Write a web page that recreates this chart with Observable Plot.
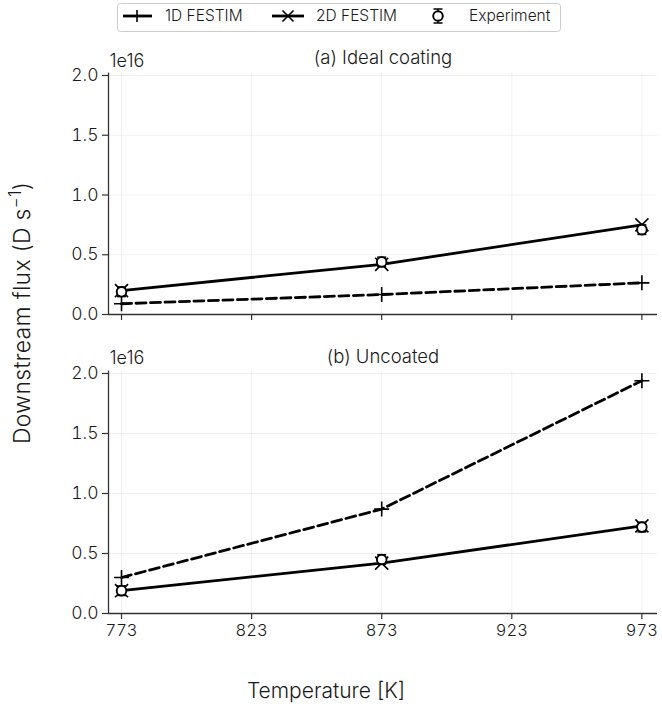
<!DOCTYPE html>
<html><head><meta charset="utf-8">
<script src="https://cdn.jsdelivr.net/npm/d3@7"></script>
<script src="https://cdn.jsdelivr.net/npm/@observablehq/plot@0.6"></script>
<style>
body{margin:0;background:#fff;font-family:Inter,"Noto Sans",sans-serif;font-weight:300;}
#wrap{position:relative;width:662px;height:706px;overflow:hidden;background:#fff;}
#wrap text{font-weight:300;}
.panel{position:absolute;left:0;}
#legend{position:absolute;left:117px;top:3px;z-index:5;}
#ylab{position:absolute;left:22px;top:313px;transform:translate(-50%,-50%) rotate(-90deg);white-space:nowrap;font-size:23px;letter-spacing:0.3px;color:#1a1a1a;}
#xlab{position:absolute;left:326px;top:690px;transform:translate(-50%,-50%);white-space:nowrap;font-size:21px;color:#1a1a1a;}
</style></head><body><div id="wrap"></div>
<script>
// ---- data ----
const temperatures = [773, 873, 973];
const xTicks = [773, 823, 873, 923, 973];
const yTicks = [0, 0.5, 1.0, 1.5, 2.0];
const coated1D  = [0.09, 0.167, 0.265];
const coated2D  = [0.20, 0.42, 0.75];
const coatedExp = [0.19, 0.44, 0.71];
const coatedErr = [0.04, 0.04, 0.04];
const uncoated1D  = [0.30, 0.87, 1.94];
const uncoated2D  = [0.19, 0.42, 0.73];
const uncoatedExp = [0.19, 0.45, 0.72];
const uncoatedErr = [0.04, 0.04, 0.04];
const panelTitles = ["(a) Ideal coating", "(b) Uncoated"];
const scaleLabel = "1e16";
const seriesNames = ["1D FESTIM", "2D FESTIM", "Experiment"];
const xLabel = "Temperature [K]";
const yLabelHTML = "Downstream flux (D s<sup style='font-size:0.72em;vertical-align:0.55em;line-height:0'>−1</sup>)";

const xDomain = [768, 979];
const yDomain = [0, 2.02];
const font = "Inter, 'Noto Sans', sans-serif";

const capSymbol = {draw(ctx, size){ const w = Math.sqrt(size/Math.PI); ctx.moveTo(-w,0); ctx.lineTo(w,0); }};

function panel({title, d1, d2, e, err, height, marginTop, marginBottom, showLabels, titleDy, scaleDy}) {
  const rows = temperatures.map((t,i)=>({t, v1:d1[i], v2:d2[i], e:e[i], err:err[i]}));
  return Plot.plot({
    width: 662, height, marginLeft: 108, marginRight: 5, marginTop, marginBottom,
    style: {fontFamily: font, fontWeight: 300, background: "transparent", color: "#1a1a1a", overflow: "visible"},
    x: {domain: xDomain},
    y: {domain: yDomain},
    marks: [
      Plot.gridX(xTicks, {stroke: "#000", strokeOpacity: 0.06, strokeWidth: 1}),
      Plot.gridY(yTicks, {stroke: "#000", strokeOpacity: 0.06, strokeWidth: 1}),
      Plot.axisY(yTicks, {tickFormat: d3.format(".1f"), tickSize: 6, tickPadding: 4, fontSize: 17.5, stroke: "#333", strokeWidth: 1.2, label: null}),
      Plot.axisX(xTicks, {tickFormat: showLabels ? (d => String(d)) : (() => ""), tickSize: 6, tickPadding: 5, fontSize: 16.5, stroke: "#333", strokeWidth: 1.2, label: null}),
      Plot.ruleX([xDomain[0]], {stroke: "#333", strokeWidth: 1.3}),
      Plot.ruleY([yDomain[0]], {stroke: "#333", strokeWidth: 1.3}),
      Plot.line(rows, {x: "t", y: "v1", stroke: "black", strokeWidth: 2.8, strokeDasharray: "10,4.5"}),
      Plot.line(rows, {x: "t", y: "v2", stroke: "black", strokeWidth: 2.8}),
      Plot.dot(rows, {x: "t", y: "v1", symbol: "plus", r: 4.9, stroke: "black", strokeWidth: 1.6}),
      Plot.dot(rows, {x: "t", y: "v2", symbol: "times", r: 6, stroke: "black", strokeWidth: 1.6}),
      Plot.ruleX(rows, {x: "t", y1: d => d.e - d.err, y2: d => d.e + d.err, stroke: "black", strokeWidth: 1.5}),
      Plot.dot(rows, {x: "t", y: d => d.e - d.err, symbol: capSymbol, r: 4.5, stroke: "black", strokeWidth: 1.5}),
      Plot.dot(rows, {x: "t", y: d => d.e + d.err, symbol: capSymbol, r: 4.5, stroke: "black", strokeWidth: 1.5}),
      Plot.dot(rows, {x: "t", y: "e", r: 4.8, fill: "white", stroke: "black", strokeWidth: 1.9}),
      Plot.text([title], {frameAnchor: "top", lineAnchor: "middle", dy: titleDy, fontSize: 18.5, fill: "#1a1a1a"}),
      Plot.text([scaleLabel], {frameAnchor: "top-left", lineAnchor: "middle", textAnchor: "start", dx: 1, dy: scaleDy, fontSize: 18, fill: "#1a1a1a"})
    ]
  });
}

const wrap = document.getElementById("wrap");

const top1 = panel({title: panelTitles[0], d1: coated1D, d2: coated2D, e: coatedExp, err: coatedErr,
  height: 330, marginTop: 72.6, marginBottom: 16, showLabels: false, titleDy: -15.5, scaleDy: -11.5});
const d1 = document.createElement("div"); d1.className = "panel"; d1.style.top = "0px"; d1.appendChild(top1); wrap.appendChild(d1);

const bot = panel({title: panelTitles[1], d1: uncoated1D, d2: uncoated2D, e: uncoatedExp, err: uncoatedErr,
  height: 376, marginTop: 40.6, marginBottom: 93, showLabels: true, titleDy: -14.5, scaleDy: -13});
const d2 = document.createElement("div"); d2.className = "panel"; d2.style.top = "330px"; d2.appendChild(bot); wrap.appendChild(d2);

// axis titles
const yl = document.createElement("div"); yl.id = "ylab"; yl.innerHTML = yLabelHTML; wrap.appendChild(yl);
const xl = document.createElement("div"); xl.id = "xlab"; xl.textContent = xLabel; wrap.appendChild(xl);

// legend
const lg = d3.select(wrap).append("svg").attr("id", "legend").attr("width", 445).attr("height", 30)
  .style("font-family", font);
lg.append("rect").attr("x", 0.5).attr("y", 0.5).attr("width", 443).attr("height", 28).attr("rx", 3)
  .attr("fill", "white").attr("stroke", "#ccc");
const cy = 13;
// 1D
lg.append("line").attr("x1", 6).attr("x2", 35).attr("y1", cy).attr("y2", cy).attr("stroke", "black").attr("stroke-width", 2.8);
lg.append("path").attr("transform", `translate(20,${cy})`).attr("d", "M-6,0H6M0,-6V6").attr("stroke", "black").attr("stroke-width", 1.6);
lg.append("text").attr("x", 48).attr("y", cy).attr("dy", "0.35em").attr("font-size", 15.5).attr("fill", "#1a1a1a").text(seriesNames[0]);
// 2D
lg.append("line").attr("x1", 155).attr("x2", 187).attr("y1", cy).attr("y2", cy).attr("stroke", "black").attr("stroke-width", 2.8);
lg.append("path").attr("transform", `translate(171,${cy})`).attr("d", "M-5.5,-5.5L5.5,5.5M-5.5,5.5L5.5,-5.5").attr("stroke", "black").attr("stroke-width", 1.6);
lg.append("text").attr("x", 199).attr("y", cy).attr("dy", "0.35em").attr("font-size", 15.5).attr("fill", "#1a1a1a").text(seriesNames[1]);
// Experiment
lg.append("path").attr("d", `M321,${cy-7}V${cy+7}M316.5,${cy-7}H325.5M316.5,${cy+7}H325.5`).attr("stroke", "black").attr("stroke-width", 1.5);
lg.append("circle").attr("cx", 321).attr("cy", cy).attr("r", 4.8).attr("fill", "white").attr("stroke", "black").attr("stroke-width", 1.9);
lg.append("text").attr("x", 352).attr("y", cy).attr("dy", "0.35em").attr("font-size", 15.5).attr("fill", "#1a1a1a").text(seriesNames[2]);
</script></body></html>
